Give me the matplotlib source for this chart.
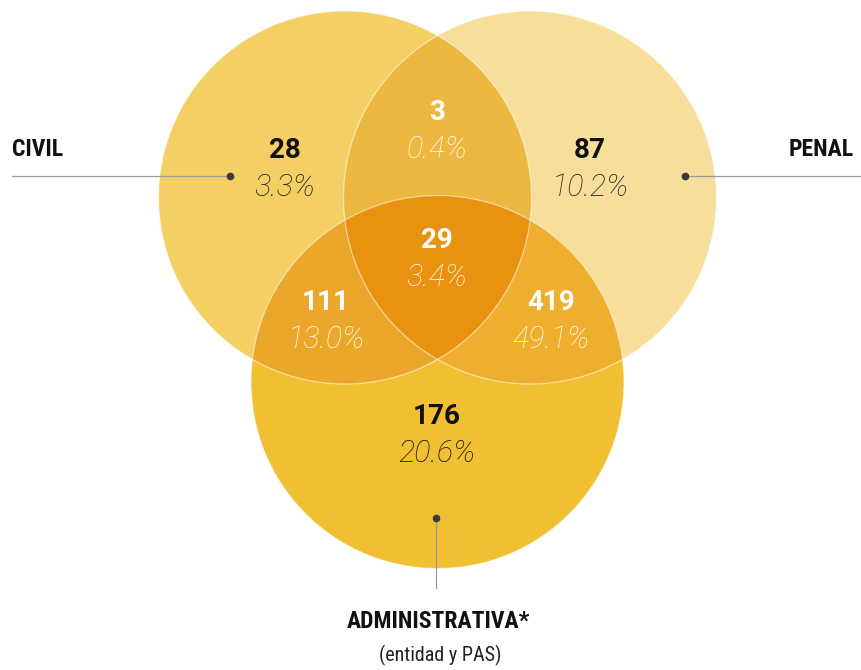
import numpy as np
import matplotlib.pyplot as plt
from matplotlib.patches import Circle, Polygon

# data: region counts and shares
regions = ['civil', 'civil_penal', 'penal', 'all', 'civil_admin', 'penal_admin', 'admin']
counts = [28, 3, 87, 29, 111, 419, 176]
shares = ['3.3%', '0.4%', '10.2%', '3.4%', '13.0%', '49.1%', '20.6%']
set_names = ['CIVIL', 'PENAL', 'ADMINISTRATIVA*']
set_note = '(entidad y PAS)'

# layout (pixels, y down)
R = 186.5
cA = (345, 197.5)
cB = (530, 197.5)
cC = (437.5, 382)
text_pos = {'civil': (285, 168), 'civil_penal': (437, 131), 'penal': (590, 168),
            'all': (437, 259), 'civil_admin': (326, 321), 'penal_admin': (551, 321),
            'admin': (437, 434)}
region_col = {'civil': '#F3CF64', 'penal': '#F7DF9B', 'admin': '#F0BF32',
              'civil_penal': '#ECB840', 'civil_admin': '#EBA72A', 'penal_admin': '#EEAF2E',
              'all': '#E8920F'}
num_col = {'civil': '#111111', 'penal': '#111111', 'admin': '#111111'}
pct_col = {'civil': '#222222', 'penal': '#222222', 'admin': '#151515'}

fig = plt.figure(figsize=(8.61, 6.7), dpi=100)
ax = fig.add_axes([0, 0, 1, 1])
ax.set_xlim(0, 861)
ax.set_ylim(670, 0)
ax.set_aspect('equal')
ax.axis('off')

def circ(c, col, z, clip=None):
    p = Circle(c, R, facecolor=col, edgecolor='none', zorder=z)
    ax.add_patch(p)
    if clip is not None:
        p.set_clip_path(clip)
    return p

def clipper(c):
    return Circle(c, R, transform=ax.transData)

circ(cA, region_col['civil'], 1)
circ(cB, region_col['penal'], 1)
circ(cC, region_col['admin'], 1)
circ(cB, region_col['civil_penal'], 2, clipper(cA))
circ(cC, region_col['civil_admin'], 2, clipper(cA))
circ(cC, region_col['penal_admin'], 2, clipper(cB))

# lens A∩B as clip for the triple region
d2 = (cB[0] - cA[0]) / 2
al = np.arccos(d2 / R)
t1 = np.linspace(-al, al, 200)
t2 = np.linspace(np.pi - al, np.pi + al, 200)
lens = np.vstack([np.column_stack([cA[0] + R * np.cos(t1), cA[1] + R * np.sin(t1)]),
                  np.column_stack([cB[0] + R * np.cos(t2), cB[1] + R * np.sin(t2)])])
lens_p = Polygon(lens, closed=True, transform=ax.transData)
circ(cC, region_col['all'], 3, lens_p)

# thin light outlines
for c in [cA, cB, cC]:
    ax.add_patch(Circle(c, R, facecolor='none', edgecolor='white', lw=0.9, alpha=0.55, zorder=4))

for r, n, s in zip(regions, counts, shares):
    x, y = text_pos[r]
    ax.text(x, y - 18, str(n), ha='center', va='center', fontsize=20, fontweight='bold',
            family='Roboto', color=num_col.get(r, 'white'), zorder=5)
    ax.text(x, y + 19, s, ha='center', va='center', fontsize=22, style='italic',
            fontweight='light', family='Roboto', color=pct_col.get(r, '#FFF8EC'), zorder=5)

# leader lines and labels
lc = '#9a9a9a'
dc = '#3a3a3a'
ax.plot([12, 230], [175.5, 175.5], color=lc, lw=0.9, zorder=5)
ax.plot([230], [175.5], 'o', color=dc, ms=4.5, zorder=6)
ax.plot([685, 861], [175.5, 175.5], color=lc, lw=0.9, zorder=5)
ax.plot([685], [175.5], 'o', color=dc, ms=4.5, zorder=6)
ax.plot([436, 436], [518, 588], color=lc, lw=0.9, zorder=5)
ax.plot([436], [518], 'o', color=dc, ms=4.5, zorder=6)

lab_font = ['Roboto Condensed', 'Liberation Sans Narrow', 'Roboto']
ax.text(12, 150, set_names[0], ha='left', va='center', fontsize=17, fontweight='bold',
        family=lab_font, color='#111111')
ax.text(854, 150, set_names[1], ha='right', va='center', fontsize=17, fontweight='bold',
        family=lab_font, color='#111111')
ax.text(438, 622, set_names[2], ha='center', va='center', fontsize=17, fontweight='bold',
        family=lab_font, color='#111111')
ax.text(440, 655, set_note, ha='center', va='center', fontsize=14.5,
        family=lab_font, color='#222222')

fig.savefig('out.png', dpi=100)
